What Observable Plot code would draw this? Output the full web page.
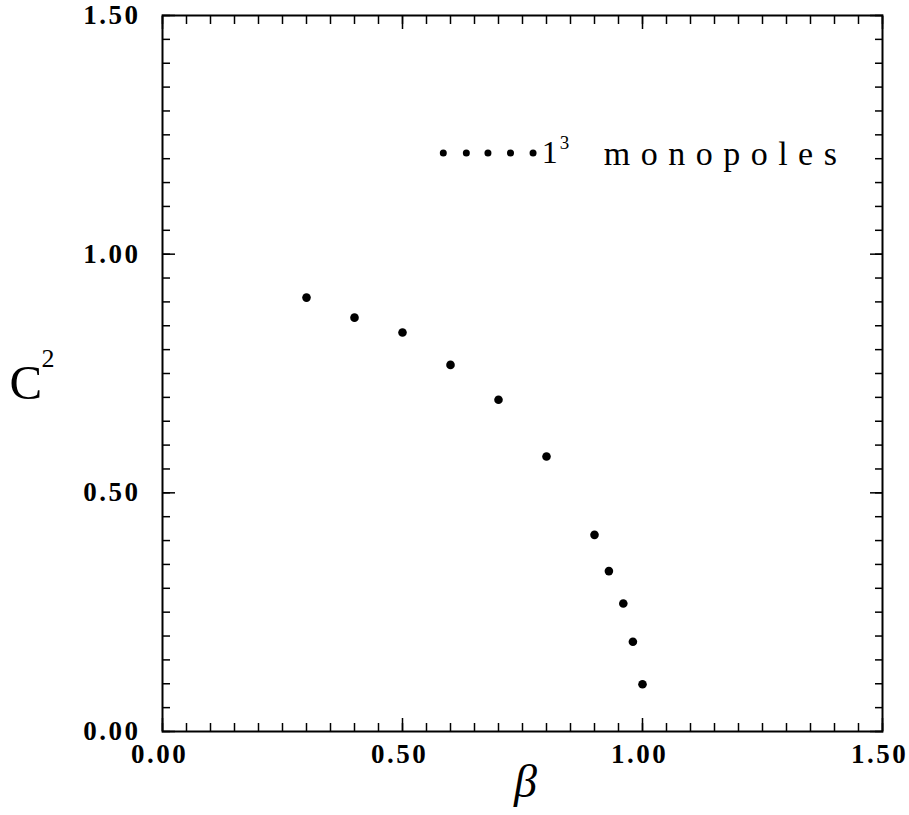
<!DOCTYPE html>
<html>
<head>
<meta charset="utf-8">
<script src="https://cdn.jsdelivr.net/npm/d3@7"></script>
<script src="https://cdn.jsdelivr.net/npm/@observablehq/plot@0.6"></script>
<style>
  html, body { margin: 0; padding: 0; background: #fff; }
  #chart svg { display: block; }
  g[aria-label="x-axis tick label"] text, g[aria-label="y-axis tick label"] text { letter-spacing: 2.5px; }
</style>
</head>
<body>
<div id="chart"></div>
<script>
// Data
const beta = [0.30, 0.40, 0.50, 0.60, 0.70, 0.80, 0.90, 0.93, 0.96, 0.98, 1.00];
const c2   = [0.909, 0.867, 0.836, 0.768, 0.695, 0.576, 0.412, 0.336, 0.268, 0.188, 0.099];

// Tick values
const majorTicks = [0, 0.5, 1.0, 1.5];
const minorTicks = d3.range(0, 31).map(i => i * 0.05);

// Legend (data coordinates)
const legendDotX = [0.585, 0.633, 0.678, 0.725, 0.772];
const legendY = 1.212;
const legendTextX = 0.79;
const legendLabel = "monopoles";

const points = beta.map((b, i) => ({beta: b, c2: c2[i]}));

const serif = "Liberation Serif";

function ticksFor(axis, anchor) {
  const f = axis === "x" ? Plot.axisX : Plot.axisY;
  return [
    f(minorTicks, {anchor, tickSize: -8, text: null, label: null, strokeWidth: 1.5}),
    f(majorTicks, {anchor, tickSize: -13, text: null, label: null, strokeWidth: 1.5})
  ];
}

const labelStyle = {fontSize: 27, fontFamily: serif, fontWeight: "bold", fill: "#000"};

const chart = Plot.plot({
  width: 909,
  height: 815,
  marginLeft: 162,
  marginRight: 27,
  marginTop: 15,
  marginBottom: 84,
  style: {background: "#fff", color: "#000", fontFamily: serif},
  x: {domain: [0, 1.5]},
  y: {domain: [0, 1.5]},
  marks: [
    ...ticksFor("x", "bottom"),
    ...ticksFor("x", "top"),
    ...ticksFor("y", "left"),
    ...ticksFor("y", "right"),
    Plot.axisX(majorTicks, {anchor: "bottom", tickSize: 0, tickPadding: 12, dx: -3, tickFormat: d3.format(".2f"),
      label: null, ...labelStyle}),
    Plot.axisY(majorTicks, {anchor: "left", tickSize: 0, tickPadding: 22, tickFormat: d3.format(".2f"),
      label: null, ...labelStyle}),
    Plot.frame({stroke: "#000", strokeWidth: 2}),
    Plot.dot(points, {x: "beta", y: "c2", r: 4.3, fill: "#000", stroke: null}),
    // legend
    Plot.dot(legendDotX, {x: d => d, y: () => legendY, r: 3.5, fill: "#000", stroke: null}),
    Plot.text(["1"], {x: () => legendTextX, y: () => legendY, textAnchor: "start", fontSize: 32, fontFamily: serif, fill: "#000"}),
    Plot.text(["3"], {x: () => legendTextX, y: () => legendY, textAnchor: "start", fontSize: 19, fontFamily: serif, dx: 18, dy: -10, fill: "#000"}),
    Plot.text([legendLabel], {x: () => legendTextX, y: () => legendY, textAnchor: "start", fontSize: 34, fontFamily: serif, dx: 62, dy: 1, fill: "#000"}),
    // axis titles
    Plot.text(["C"], {frameAnchor: "left", textAnchor: "start", dx: -153, dy: 10, fontSize: 49, fontFamily: serif, fill: "#000"}),
    Plot.text(["2"], {frameAnchor: "left", textAnchor: "start", dx: -121, dy: -15, fontSize: 26, fontFamily: serif, fill: "#000"}),
    Plot.text(["β"], {frameAnchor: "bottom", textAnchor: "middle", dx: 3, dy: 65, fontSize: 46, fontFamily: serif, fontStyle: "italic", fill: "#000"})
  ]
});

// widen the legend label's letter spacing
d3.select(chart).selectAll("text")
  .filter(function() { return this.textContent === legendLabel; })
  .style("letter-spacing", "10.5px");

document.getElementById("chart").appendChild(chart);
</script>
</body>
</html>
